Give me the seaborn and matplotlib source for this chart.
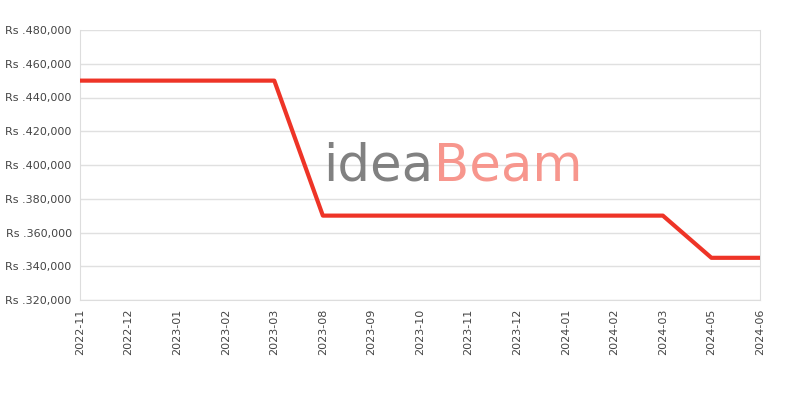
import numpy as np
import pandas as pd
import matplotlib
matplotlib.use("Agg")
import matplotlib.pyplot as plt
import seaborn as sns

months = ['2022-11', '2022-12', '2023-01', '2023-02', '2023-03', '2023-08', '2023-09',
          '2023-10', '2023-11', '2023-12', '2024-01', '2024-02', '2024-03', '2024-05', '2024-06']
prices = [450000, 450000, 450000, 450000, 450000, 370000, 370000,
          370000, 370000, 370000, 370000, 370000, 370000, 345000, 345000]
y_ticks = [320000, 340000, 360000, 380000, 400000, 420000, 440000, 460000, 480000]

df = pd.DataFrame({'month': months, 'price': prices})
df['pos'] = np.arange(len(df))

sns.set_style('white')
plt.rcParams['font.family'] = ['DejaVu Sans']

fig, ax = plt.subplots(figsize=(8, 4), dpi=100)
fig.subplots_adjust(left=0.1, right=0.95, top=0.925, bottom=0.25)

# watermark
ax.text(0.52, 0.495, 'idea', transform=ax.transAxes, fontsize=37, color='#7a7a7a',
        ha='right', va='center', zorder=1, alpha=0.95)
ax.text(0.52, 0.495, 'Beam', transform=ax.transAxes, fontsize=37, color='#f7968d',
        ha='left', va='center', zorder=1)

sns.lineplot(data=df, x='pos', y='price', ax=ax, color='#ee3427', linewidth=3, zorder=3)

ax.set_xlim(0, len(months) - 1)
ax.set_ylim(320000, 480000)
ax.set_xticks(df['pos'])
ax.set_xticklabels(months, rotation=90, fontsize=8, color='#444444')
ax.set_yticks(y_ticks)
ax.set_yticklabels([f'Rs .{v:,}' for v in y_ticks], fontsize=8, color='#444444')
ax.set_xlabel('')
ax.set_ylabel('')
ax.yaxis.grid(True, color='#e0e0e0', linewidth=1)
ax.xaxis.grid(False)
ax.tick_params(length=0, pad=6)
for side in ['left', 'bottom', 'right']:
    ax.spines[side].set_color('#dddddd')
ax.spines['top'].set_visible(False)

fig.savefig('out.png', dpi=100)
